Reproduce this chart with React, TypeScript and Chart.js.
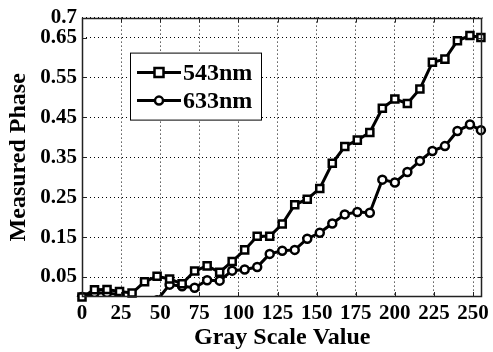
import React, { useEffect, useRef } from 'react';
import { Chart, registerables } from 'chart.js';

Chart.register(...registerables);

const grayLevels = [0, 8, 16, 24, 32, 40, 48, 56, 64, 72, 80, 88, 96, 104, 112, 120, 128, 136, 144, 152, 160, 168, 176, 184, 192, 200, 208, 216, 224, 232, 240, 248, 255];
const phase543 = [0.0, 0.018, 0.019, 0.014, 0.01, 0.038, 0.052, 0.045, 0.033, 0.065, 0.078, 0.062, 0.089, 0.118, 0.152, 0.152, 0.183, 0.231, 0.245, 0.272, 0.335, 0.377, 0.393, 0.412, 0.473, 0.496, 0.485, 0.521, 0.588, 0.596, 0.642, 0.655, 0.65];
const phase633 = [0.0, 0.01, 0.01, 0.006, -0.01, -0.03, -0.008, 0.031, 0.027, 0.023, 0.042, 0.041, 0.066, 0.069, 0.075, 0.108, 0.116, 0.118, 0.146, 0.161, 0.184, 0.207, 0.213, 0.211, 0.294, 0.287, 0.313, 0.341, 0.366, 0.378, 0.416, 0.432, 0.418];
const xTickValues = [0, 25, 50, 75, 100, 125, 150, 175, 200, 225, 250];
const yTickValues = [0.05, 0.15, 0.25, 0.35, 0.45, 0.55, 0.65, 0.7];
const seriesNames = ['543nm', '633nm'];
const xTitle = 'Gray Scale Value';
const yTitle = 'Measured Phase';

const FONT = "'Liberation Serif', 'Times New Roman', serif";

const framePlugin = {
  id: 'frame',
  afterDatasetsDraw(chart: any) {
    const { ctx, chartArea: a, scales } = chart;
    ctx.save();
    ctx.strokeStyle = '#222';
    ctx.lineWidth = 1;
    const L = 5;
    ctx.beginPath();
    scales.x.ticks.forEach((t: any) => {
      const px = Math.round(scales.x.getPixelForValue(t.value)) + 0.5;
      ctx.moveTo(px, a.bottom);
      ctx.lineTo(px, a.bottom - L);
      ctx.moveTo(px, a.top);
      ctx.lineTo(px, a.top + L);
    });
    scales.y.ticks.forEach((t: any) => {
      const py = Math.round(scales.y.getPixelForValue(t.value)) + 0.5;
      ctx.moveTo(a.left, py);
      ctx.lineTo(a.left + L, py);
      ctx.moveTo(a.right, py);
      ctx.lineTo(a.right - L, py);
    });
    ctx.stroke();
    ctx.lineWidth = 1.5;
    ctx.strokeRect(Math.round(a.left) + 0.5, Math.round(a.top) + 0.5, Math.round(a.width) - 1, Math.round(a.height) - 1);
    ctx.restore();
  },
  afterDraw(chart: any) {
    const { ctx, chartArea: a } = chart;
    const bx = a.left + 48;
    const by = a.top + 35;
    const bw = 131;
    const bh = 67;
    ctx.save();
    ctx.fillStyle = '#fff';
    ctx.fillRect(bx, by, bw, bh);
    ctx.strokeStyle = '#000';
    ctx.lineWidth = 1;
    ctx.strokeRect(bx + 0.5, by + 0.5, bw, bh);
    const rows = [by + 20, by + 48];
    seriesNames.forEach((name, i) => {
      const y = rows[i];
      ctx.strokeStyle = '#000';
      ctx.lineWidth = 3;
      ctx.beginPath();
      ctx.moveTo(bx + 7, y);
      ctx.lineTo(bx + 51, y);
      ctx.stroke();
      const cx = bx + 29;
      ctx.fillStyle = '#fff';
      ctx.lineWidth = 2.5;
      ctx.beginPath();
      if (i === 0) {
        ctx.rect(cx - 4.5, y - 4.5, 9, 9);
      } else {
        ctx.arc(cx, y, 4, 0, Math.PI * 2);
      }
      ctx.fill();
      ctx.stroke();
      ctx.fillStyle = '#000';
      ctx.font = `bold 24px ${FONT}`;
      ctx.textBaseline = 'middle';
      ctx.textAlign = 'left';
      ctx.fillText(name, bx + 53, y + 1);
    });
    ctx.restore();
  },
};

export default function App() {
  const ref = useRef<HTMLCanvasElement | null>(null);
  useEffect(() => {
    if (!ref.current) return;
    const tickFont = { family: FONT, weight: 'bold' as const, size: 21 };
    const titleFont = { family: FONT, weight: 'bold' as const, size: 24 };
    const chart = new Chart(ref.current, {
      type: 'line',
      data: {
        datasets: [
          {
            label: seriesNames[0],
            data: grayLevels.map((x, i) => ({ x, y: phase543[i] })),
            borderColor: '#000',
            backgroundColor: '#fff',
            borderWidth: 3,
            pointStyle: 'rect',
            pointRadius: 5,
            pointBorderWidth: 2.5,
            pointBorderColor: '#000',
            pointBackgroundColor: '#fff',
            clip: false as any,
          },
          {
            label: seriesNames[1],
            data: grayLevels.map((x, i) => ({ x, y: phase633[i] })),
            borderColor: '#000',
            backgroundColor: '#fff',
            borderWidth: 3,
            pointStyle: 'circle',
            pointRadius: 4,
            pointBorderWidth: 2.5,
            pointBorderColor: '#000',
            pointBackgroundColor: '#fff',
            clip: { left: 10, top: 10, right: 10, bottom: 0 } as any,
          },
        ],
      },
      options: {
        responsive: false,
        animation: false,
        devicePixelRatio: 1,
        layout: { padding: { left: 0, right: 5, top: 17, bottom: 0 } },
        plugins: { legend: { display: false }, tooltip: { enabled: false } },
        scales: {
          x: {
            type: 'linear',
            min: 0,
            max: 256,
            afterBuildTicks: (s: any) => {
              s.ticks = xTickValues.map((v) => ({ value: v }));
            },
            afterFit: (s: any) => {
              s.height = 55;
            },
            grid: { color: '#000', lineWidth: 1, drawTicks: false },
            border: { display: false, dash: [1, 3] },
            ticks: { color: '#000', font: tickFont, padding: 4, autoSkip: false, maxRotation: 0, callback: (v: any) => String(v) },
            title: { display: true, text: xTitle, color: '#000', font: titleFont, padding: { top: 0, bottom: 0 } },
          },
          y: {
            type: 'linear',
            min: 0,
            max: 0.7,
            afterBuildTicks: (s: any) => {
              s.ticks = yTickValues.map((v) => ({ value: v }));
            },
            afterFit: (s: any) => {
              s.width = 82;
            },
            grid: { color: '#000', lineWidth: 1, drawTicks: false },
            border: { display: false, dash: [1, 3] },
            ticks: { color: '#000', font: tickFont, padding: 5, autoSkip: false, callback: (v: any) => String(Math.round(v * 100) / 100) },
            title: { display: true, text: yTitle, color: '#000', font: titleFont, padding: { top: 4, bottom: 0 } },
          },
        },
      },
      plugins: [framePlugin],
    });
    return () => chart.destroy();
  }, []);
  return (
    <div style={{ position: 'absolute', left: 0, top: 0, width: 493, height: 352, background: '#fff' }}>
      <canvas ref={ref} width={493} height={352} />
    </div>
  );
}
